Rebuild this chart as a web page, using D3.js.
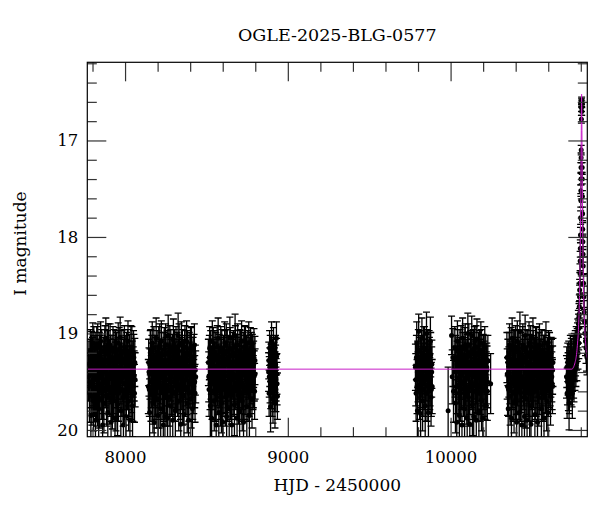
<!DOCTYPE html>
<html>
<head>
<meta charset="utf-8">
<script src="https://cdnjs.cloudflare.com/ajax/libs/d3/7.8.5/d3.min.js"></script>
<style>
body { margin: 0; background: #fff; }
text { font-family: "DejaVu Serif", serif; fill: #000; }
</style>
</head>
<body>
<div id="chart"></div>
<script>

/************************************ Light curve data  [HJD-2450000, I mag, error] ************************************/

var s2017 = [[7776,19.45,.25],[7781,19.62,.30],[7785,19.30,.24],[7790,19.85,.34],[7794,19.20,.22],[7798,19.55,.28],
  [7802,19.10,.21],[7806,19.70,.31],[7810,19.38,.25],[7814,19.25,.23],[7818,19.90,.36],[7822,19.48,.27],[7826,19.15,.22],
  [7830,19.66,.30],[7834,19.33,.24],[7838,19.78,.33],[7842,19.22,.23],[7846,19.52,.27],[7850,19.08,.20],[7854,19.60,.29],
  [7858,19.40,.26],[7862,19.95,.38],[7866,19.28,.24],[7870,19.72,.31],[7874,19.18,.22],[7878,19.50,.27],[7882,19.05,.21],
  [7886,19.64,.30],[7890,19.35,.25],[7894,19.82,.34],[7898,19.12,.22],[7902,19.45,.26],[7906,19.58,.28],[7910,19.25,.23],
  [7914,19.92,.37],[7918,19.40,.26],[7922,19.68,.31],[7926,19.15,.22],[7930,19.55,.28],[7934,19.30,.24],[7938,19.88,.35],
  [7942,19.20,.23],[7946,19.62,.29],[7950,19.42,.26],[7954,19.74,.32],[7958,19.10,.21],[7962,19.50,.27],[7966,19.35,.25],
  [7970,19.04,.21],[7974,19.80,.33],[7978,19.28,.24],[7982,19.58,.28],[7986,19.45,.26],[7990,19.95,.38],[7994,19.18,.22],
  [7998,19.65,.30],[8002,19.38,.25],[8006,19.86,.35],[8010,19.22,.23],[8014,19.52,.27],[8018,19.08,.21],[8022,19.70,.31],
  [8026,19.32,.24],[8030,19.90,.36],[8034,19.45,.26],[8038,19.60,.29],[8042,19.15,.22],[8046,19.75,.32],[8050,19.40,.26],
  [8054,19.25,.24],[8058,19.62,.30],[8062,19.48,.28]];
var s2017b = [[7778,19.32,.24],[7783,19.50,.27],[7787,19.18,.22],[7792,19.42,.26],[7796,19.65,.30],[7800,19.28,.24],
  [7804,19.48,.27],[7808,19.15,.22],[7812,19.58,.28],[7816,19.35,.25],[7820,19.22,.23],[7824,19.62,.29],[7828,19.40,.26],
  [7832,19.12,.22],[7836,19.52,.27],[7840,19.30,.24],[7844,19.68,.30],[7848,19.25,.23],[7852,19.45,.26],[7856,19.18,.22],
  [7860,19.55,.28],[7864,19.38,.25],[7868,19.60,.29],[7872,19.32,.24],[7876,19.14,.22],[7880,19.48,.27],[7884,19.28,.24],
  [7888,19.66,.30],[7892,19.20,.23],[7896,19.42,.26],[7900,19.56,.28],[7904,19.30,.24],[7908,19.12,.22],[7912,19.46,.27],
  [7916,19.62,.29],[7920,19.25,.23],[7924,19.40,.26],[7928,19.58,.28],[7932,19.18,.22],[7936,19.44,.26],[7940,19.34,.25],
  [7944,19.70,.31],[7948,19.22,.23],[7952,19.50,.27],[7956,19.28,.24],[7960,19.62,.29],[7964,19.16,.22],[7968,19.46,.27],
  [7972,19.36,.25],[7976,19.58,.28],[7980,19.20,.23],[7984,19.42,.26],[7988,19.66,.30],[7992,19.30,.24],[7996,19.14,.22],
  [8000,19.52,.27],[8004,19.26,.24],[8008,19.60,.29],[8012,19.38,.25],[8016,19.18,.22],[8020,19.48,.27],[8024,19.58,.28],
  [8028,19.24,.23],[8032,19.40,.26],[8036,19.14,.22],[8040,19.54,.28],[8044,19.32,.24],[8048,19.62,.29],[8052,19.20,.23],
  [8056,19.44,.26],[8060,19.30,.25]];

var s2018 = [[8143,19.55,.28],[8147,19.40,.25],[8151,19.82,.35],[8155,19.20,.23],[8159,19.62,.29],[8163,19.35,.25],
  [8167,19.10,.22],[8171,19.72,.31],[8175,19.45,.26],[8179,19.92,.37],[8183,19.25,.23],[8187,19.58,.28],[8191,19.05,.21],
  [8195,19.68,.30],[8199,19.38,.25],[8203,19.85,.35],[8207,19.15,.22],[8211,19.50,.27],[8215,19.30,.24],[8219,19.78,.33],
  [8223,19.08,.21],[8227,19.60,.29],[8231,19.42,.26],[8235,19.95,.38],[8239,19.22,.23],[8243,19.55,.28],[8245,19.86,.30],
  [8249,19.12,.22],[8253,19.66,.30],[8257,19.35,.25],[8261,19.88,.36],[8265,19.02,.21],[8269,19.48,.27],[8273,19.28,.24],
  [8277,19.75,.32],[8281,19.18,.22],[8285,19.58,.28],[8289,19.40,.26],[8293,19.90,.36],[8297,19.06,.21],[8301,19.62,.29],
  [8305,19.32,.24],[8309,19.80,.34],[8313,19.15,.22],[8317,19.52,.27],[8321,19.38,.25],[8326,19.02,.23],[8330,19.70,.31],
  [8334,19.25,.23],[8338,19.55,.28],[8342,19.94,.37],[8346,19.10,.22],[8350,19.45,.26],[8354,19.65,.30],[8358,19.30,.24],
  [8362,19.84,.35],[8366,19.20,.23],[8370,19.58,.28],[8374,19.42,.26],[8378,19.08,.21],[8382,19.72,.31],[8386,19.35,.25],
  [8390,19.90,.36],[8394,19.22,.23],[8398,19.50,.27],[8402,19.15,.22],[8406,19.68,.30],[8410,19.40,.26],[8414,19.78,.33],
  [8418,19.28,.24],[8422,19.55,.28],[8426,19.12,.22],[8430,19.62,.30],[8434,19.45,.27]];
var s2018b = [[8145,19.30,.24],[8149,19.58,.28],[8153,19.42,.26],[8157,19.18,.22],[8161,19.50,.27],[8165,19.26,.24],
  [8169,19.64,.30],[8173,19.35,.25],[8177,19.15,.22],[8181,19.48,.27],[8185,19.60,.29],[8189,19.28,.24],[8193,19.44,.26],
  [8197,19.20,.23],[8201,19.56,.28],[8205,19.32,.24],[8209,19.68,.30],[8213,19.12,.22],[8217,19.46,.27],[8221,19.38,.25],
  [8225,19.22,.23],[8229,19.54,.28],[8233,19.30,.24],[8237,19.62,.29],[8241,19.16,.22],[8247,19.42,.26],[8251,19.28,.24],
  [8255,19.58,.28],[8259,19.20,.23],[8263,19.48,.27],[8267,19.36,.25],[8271,19.66,.30],[8275,19.14,.22],[8279,19.44,.26],
  [8283,19.30,.24],[8287,19.56,.28],[8291,19.24,.23],[8295,19.50,.27],[8299,19.38,.25],[8303,19.18,.22],[8307,19.62,.29],
  [8311,19.34,.25],[8315,19.46,.27],[8319,19.22,.23],[8323,19.58,.28],[8328,19.30,.24],[8332,19.12,.22],[8336,19.44,.26],
  [8340,19.60,.29],[8344,19.28,.24],[8348,19.52,.27],[8352,19.18,.22],[8356,19.40,.26],[8360,19.64,.30],[8364,19.32,.24],
  [8368,19.14,.22],[8372,19.48,.27],[8376,19.26,.24],[8380,19.56,.28],[8384,19.20,.23],[8388,19.42,.26],[8392,19.62,.29],
  [8396,19.34,.25],[8400,19.50,.27],[8404,19.28,.24],[8408,19.16,.22],[8412,19.46,.27],[8416,19.60,.29],[8420,19.36,.25],
  [8424,19.24,.23],[8428,19.50,.27],[8432,19.38,.26]];

var s2019 = [[8512,19.30,.24],[8516,19.58,.28],[8520,19.15,.22],[8524,19.75,.32],[8528,19.42,.26],[8532,19.88,.36],
  [8536,19.08,.21],[8540,19.52,.27],[8544,19.35,.25],[8548,19.70,.31],[8552,19.20,.23],[8556,19.62,.29],[8560,19.95,.38],
  [8564,19.28,.24],[8568,19.48,.27],[8572,19.05,.21],[8576,19.82,.34],[8580,19.38,.25],[8584,19.60,.29],[8588,19.15,.22],
  [8592,19.72,.31],[8596,19.45,.26],[8600,19.92,.37],[8604,19.25,.23],[8608,19.55,.28],[8612,19.10,.22],[8616,19.66,.30],
  [8620,19.32,.24],[8624,19.86,.35],[8628,19.18,.22],[8632,19.50,.27],[8636,19.40,.26],[8640,19.78,.33],[8644,19.04,.21],
  [8648,19.60,.29],[8652,19.30,.24],[8656,19.95,.38],[8660,19.22,.23],[8664,19.58,.28],[8668,19.45,.26],[8672,19.74,.32],
  [8676,19.02,.22],[8680,19.52,.27],[8684,19.35,.25],[8688,19.88,.36],[8692,19.12,.22],[8696,19.64,.30],[8700,19.42,.26],
  [8704,19.80,.34],[8708,19.20,.23],[8712,19.55,.28],[8716,19.08,.21],[8720,19.70,.31],[8724,19.38,.25],[8728,19.92,.37],
  [8732,19.25,.23],[8736,19.60,.29],[8740,19.15,.22],[8744,19.48,.27],[8748,19.76,.32],[8752,19.32,.24],[8756,19.62,.29],
  [8760,19.10,.22],[8764,19.85,.35],[8768,19.40,.26],[8772,19.55,.28],[8776,19.22,.23],[8780,19.68,.30],[8784,19.35,.25],
  [8788,19.50,.27],[8792,19.18,.23],[8796,19.60,.29],[8799,19.42,.26]];
var s2019b = [[8514,19.45,.26],[8518,19.25,.23],[8522,19.52,.27],[8526,19.20,.23],[8530,19.38,.25],[8534,19.60,.29],
  [8538,19.30,.24],[8542,19.16,.22],[8546,19.48,.27],[8550,19.34,.25],[8554,19.62,.29],[8558,19.22,.23],[8562,19.44,.26],
  [8566,19.14,.22],[8570,19.56,.28],[8574,19.36,.25],[8578,19.24,.23],[8582,19.50,.27],[8586,19.66,.30],[8590,19.30,.24],
  [8594,19.18,.22],[8598,19.46,.27],[8602,19.58,.28],[8606,19.28,.24],[8610,19.40,.26],[8614,19.20,.23],[8618,19.54,.28],
  [8622,19.12,.22],[8626,19.44,.26],[8630,19.62,.29],[8634,19.26,.24],[8638,19.50,.27],[8642,19.34,.25],[8646,19.16,.22],
  [8650,19.48,.27],[8654,19.64,.30],[8658,19.30,.24],[8662,19.42,.26],[8666,19.20,.23],[8670,19.56,.28],[8674,19.36,.25],
  [8678,19.14,.22],[8682,19.46,.27],[8686,19.28,.24],[8690,19.60,.29],[8694,19.24,.23],[8698,19.50,.27],[8702,19.32,.24],
  [8706,19.18,.22],[8710,19.44,.26],[8714,19.62,.29],[8718,19.30,.24],[8722,19.52,.27],[8726,19.22,.23],[8730,19.40,.26],
  [8734,19.14,.22],[8738,19.56,.28],[8742,19.34,.25],[8746,19.26,.24],[8750,19.48,.27],[8754,19.20,.23],[8758,19.42,.26],
  [8762,19.58,.28],[8766,19.28,.24],[8770,19.16,.22],[8774,19.46,.27],[8778,19.36,.25],[8782,19.24,.23],[8786,19.52,.27],
  [8790,19.32,.24],[8794,19.44,.26],[8798,19.28,.25]];

var s2020 = [[8882,19.40,.20],[8885,19.62,.24],[8888,19.15,.18],[8891,19.50,.22],[8894,19.76,.26],[8897,19.30,.19],
  [8900,19.08,.20],[8903,19.55,.23],[8906,19.25,.19],[8909,19.68,.25],[8912,19.12,.18],[8915,19.45,.21],[8918,19.35,.20],
  [8921,19.72,.26],[8924,19.20,.18],[8927,19.58,.23],[8930,19.05,.17],[8933,19.42,.21],[8936,19.65,.24]];
var s2020b = [[8883,19.28,.19],[8886,19.45,.21],[8889,19.35,.20],[8892,19.20,.18],[8895,19.55,.23],[8898,19.42,.21],
  [8901,19.30,.19],[8904,19.62,.24],[8907,19.38,.20],[8910,19.22,.18],[8913,19.50,.22],[8916,19.28,.19],[8919,19.58,.23],
  [8922,19.40,.21],[8925,19.32,.20],[8928,19.48,.22],[8931,19.24,.19],[8934,19.52,.22]];

var s2022 = [[9784,19.35,.24],[9788,19.62,.29],[9792,19.10,.22],[9796,19.80,.33],[9800,19.45,.26],[9804,18.98,.18],
  [9808,19.55,.28],[9812,19.25,.23],[9816,19.83,.34],[9820,19.40,.26],[9824,19.05,.21],[9828,19.70,.31],[9832,19.30,.24],
  [9836,19.58,.28],[9840,19.15,.22],[9844,19.75,.32],[9848,19.48,.27],[9852,19.00,.22],[9856,19.62,.29],[9860,19.35,.25],
  [9864,19.82,.34],[9868,19.20,.23],[9872,19.52,.27],[9876,19.08,.25],[9880,19.66,.30],[9884,19.40,.26],[9887,19.55,.28]];
var s2022b = [[9786,19.48,.27],[9790,19.25,.23],[9794,19.55,.28],[9798,19.32,.24],[9802,19.18,.22],[9806,19.42,.26],
  [9810,19.60,.29],[9814,19.28,.24],[9818,19.50,.27],[9822,19.20,.23],[9826,19.45,.26],[9830,19.35,.25],[9834,19.15,.22],
  [9838,19.52,.27],[9842,19.30,.24],[9846,19.62,.29],[9850,19.24,.23],[9854,19.44,.26],[9858,19.18,.22],[9862,19.55,.28],
  [9866,19.36,.25],[9870,19.28,.24],[9874,19.48,.27],[9878,19.22,.23],[9882,19.58,.28],[9885,19.32,.25]];

var s2023 = [[9985,19.80,.45],[10006,19.02,.20],[10010,19.45,.28],[10014,19.25,.30],[10018,19.60,.32],[10026,19.15,.22],
  [10030,19.72,.31],[10034,19.38,.25],[10038,19.92,.37],[10042,19.08,.21],[10046,19.55,.28],[10050,19.30,.24],[10054,19.85,.35],
  [10058,19.18,.22],[10062,19.62,.29],[10066,19.42,.26],[10070,19.95,.38],[10074,19.05,.21],[10078,19.50,.27],[10082,19.28,.24],
  [10086,19.78,.33],[10090,19.12,.22],[10094,19.58,.28],[10098,19.40,.26],[10102,19.88,.36],[10106,19.00,.21],[10110,19.66,.30],
  [10114,19.35,.25],[10118,19.94,.37],[10122,19.22,.23],[10126,19.52,.27],[10130,19.02,.20],[10134,19.74,.32],[10138,19.45,.26],
  [10142,19.86,.35],[10146,19.15,.22],[10150,19.60,.29],[10154,19.32,.24],[10158,19.90,.36],[10162,19.06,.21],[10166,19.55,.28],
  [10170,19.38,.25],[10174,19.80,.34],[10178,19.20,.23],[10182,19.62,.29],[10186,19.10,.22],[10190,19.70,.31],[10194,19.42,.26],
  [10198,19.88,.36],[10202,19.25,.23],[10206,19.58,.28],[10210,19.15,.22],[10214,19.48,.27],[10218,19.75,.32],[10222,19.35,.25],
  [10226,19.60,.30],[10229,19.28,.26],[10246,19.52,.31]];
var s2023b = [[10028,19.40,.26],[10032,19.25,.23],[10036,19.55,.28],[10040,19.32,.24],[10044,19.18,.22],[10048,19.46,.27],
  [10052,19.62,.29],[10056,19.28,.24],[10060,19.42,.26],[10064,19.14,.22],[10068,19.52,.27],[10072,19.34,.25],[10076,19.22,.23],
  [10080,19.58,.28],[10084,19.40,.26],[10088,19.16,.22],[10092,19.48,.27],[10096,19.30,.24],[10100,19.64,.30],[10104,19.24,.23],
  [10108,19.44,.26],[10112,19.12,.22],[10116,19.56,.28],[10120,19.36,.25],[10124,19.20,.23],[10128,19.50,.27],[10132,19.30,.24],
  [10136,19.60,.29],[10140,19.18,.22],[10144,19.42,.26],[10148,19.28,.24],[10152,19.54,.28],[10156,19.14,.22],[10160,19.46,.27],
  [10164,19.34,.25],[10168,19.62,.29],[10172,19.22,.23],[10176,19.44,.26],[10180,19.30,.24],[10184,19.56,.28],[10188,19.18,.22],
  [10192,19.48,.27],[10196,19.36,.25],[10200,19.24,.23],[10204,19.52,.27],[10208,19.32,.24],[10212,19.60,.29],[10216,19.26,.24],
  [10220,19.46,.27],[10224,19.38,.25],[10227,19.50,.27]];

var s2024 = [[10346,19.25,.26],[10350,19.55,.30],[10354,19.78,.34],[10358,19.40,.26],[10362,19.12,.22],[10366,19.65,.30],
  [10370,19.32,.24],[10374,19.88,.36],[10378,19.05,.21],[10382,19.50,.27],[10386,19.28,.24],[10390,19.72,.31],[10394,19.18,.22],
  [10398,19.60,.29],[10402,19.42,.26],[10406,19.92,.37],[10410,19.08,.21],[10414,19.55,.28],[10418,19.35,.25],[10422,19.82,.34],
  [10426,18.98,.20],[10430,19.62,.29],[10434,19.45,.26],[10438,19.95,.38],[10442,19.15,.22],[10446,19.52,.27],[10450,19.30,.24],
  [10454,19.86,.35],[10458,19.02,.21],[10462,19.68,.30],[10466,19.38,.25],[10470,19.90,.36],[10474,19.20,.23],[10478,19.58,.28],
  [10482,19.10,.22],[10486,19.75,.32],[10490,19.45,.26],[10494,19.94,.37],[10498,19.25,.23],[10502,19.62,.29],[10506,19.05,.21],
  [10510,19.50,.27],[10514,19.35,.25],[10518,19.84,.35],[10522,19.15,.22],[10526,19.58,.28],[10530,19.40,.26],[10534,19.92,.37],
  [10538,19.22,.23],[10542,19.66,.30],[10546,19.12,.22],[10550,19.52,.27],[10554,19.30,.24],[10558,19.78,.33],[10562,19.18,.22],
  [10566,19.60,.29],[10570,19.42,.26],[10574,19.88,.36],[10578,19.25,.23],[10582,19.55,.28],[10586,19.10,.22],[10590,19.70,.31],
  [10594,19.35,.25],[10598,19.82,.34],[10602,19.20,.23],[10606,19.50,.27],[10610,19.38,.25],[10614,19.65,.30],[10618,19.28,.24],
  [10622,19.45,.26],[10626,19.55,.28],[10629,19.30,.25]];
var s2024b = [[10348,19.42,.26],[10352,19.30,.24],[10356,19.58,.28],[10360,19.22,.23],[10364,19.46,.27],[10368,19.36,.25],
  [10372,19.16,.22],[10376,19.52,.27],[10380,19.30,.24],[10384,19.62,.29],[10388,19.20,.23],[10392,19.44,.26],[10396,19.34,.25],
  [10400,19.14,.22],[10404,19.56,.28],[10408,19.28,.24],[10412,19.48,.27],[10416,19.18,.22],[10420,19.60,.29],[10424,19.32,.24],
  [10428,19.44,.26],[10432,19.22,.23],[10436,19.54,.28],[10440,19.36,.25],[10444,19.12,.22],[10448,19.48,.27],[10452,19.66,.30],
  [10456,19.26,.24],[10460,19.40,.26],[10464,19.18,.22],[10468,19.56,.28],[10472,19.30,.24],[10476,19.46,.27],[10480,19.62,.29],
  [10484,19.24,.23],[10488,19.38,.25],[10492,19.14,.22],[10496,19.52,.27],[10500,19.34,.25],[10504,19.58,.28],[10508,19.20,.23],
  [10512,19.44,.26],[10516,19.28,.24],[10520,19.60,.29],[10524,19.36,.25],[10528,19.16,.22],[10532,19.50,.27],[10536,19.30,.24],
  [10540,19.46,.27],[10544,19.22,.23],[10548,19.56,.28],[10552,19.38,.25],[10556,19.18,.22],[10560,19.48,.27],[10564,19.32,.24],
  [10568,19.62,.29],[10572,19.26,.24],[10576,19.42,.26],[10580,19.20,.23],[10584,19.54,.28],[10588,19.36,.25],[10592,19.46,.27],
  [10596,19.28,.24],[10600,19.58,.28],[10604,19.34,.25],[10608,19.22,.23],[10612,19.48,.27],[10616,19.40,.26],[10620,19.30,.24],
  [10624,19.52,.27],[10627,19.38,.25]];

var s2025 = [[10712,19.45,.22],[10716,19.62,.26],[10720,19.30,.20],[10724,19.55,.25],[10728,19.72,.28],[10732,19.40,.22],
  [10736,19.20,.18],[10740,19.50,.24],[10744,19.35,.21],[10748,19.62,.26],[10752,19.28,.20],[10756,19.45,.22],[10760,19.18,.18],
  [10764,19.38,.21],[10768,19.25,.19],[10772,19.10,.17],[10776,19.30,.19],[10780,19.05,.16],[10783,19.20,.17],[10786,18.95,.15],
  [10788,19.10,.16],[10790,18.80,.13],[10792,18.62,.12],[10794,18.48,.11],[10795,18.38,.10],[10796,18.25,.10],[10797,18.12,.09],
  [10798,17.98,.08],[10799,17.80,.07],[10800,17.62,.07],[10800.5,17.52,.06],[10801,17.40,.06],[10801.5,17.28,.05],[10802,17.18,.05],
  [10802.5,17.10,.05],[10803.7,16.78,.04],[10804.2,16.66,.04],[10804.6,16.60,.03],[10805,16.58,.03],[10805.4,16.62,.03],
  [10805.8,16.70,.04],[10808.5,17.28,.05],[10809,17.40,.05],[10810,17.58,.06],[10811,17.76,.07],[10812,17.92,.07],[10813,18.05,.08],
  [10814,18.18,.08],[10815,18.30,.09],[10817,18.48,.10],[10819,18.62,.11],[10821,18.78,.12],[10823,18.88,.13],[10826,19.00,.14],
  [10829,19.08,.15],[10832,19.15,.16],[10835,19.22,.17],[10838,19.25,.18]];
var s2025b = [[10714,19.35,.21],[10718,19.50,.24],[10722,19.42,.22],[10726,19.28,.20],[10730,19.58,.25],[10734,19.32,.21],
  [10738,19.45,.23],[10742,19.25,.20],[10746,19.52,.24],[10750,19.38,.22],[10754,19.22,.19],[10758,19.48,.23],[10762,19.30,.20],
  [10766,19.15,.18],[10770,19.35,.20],[10774,19.20,.18],[10778,19.12,.17],[10782,19.00,.15],[10785,18.90,.14],[10787,19.02,.15],
  [10789,18.82,.13],[10791,18.72,.12],[10793,18.55,.11]];

/************************************ Model curve ************************************/

var modelT   = [7700, 10745, 10755, 10765, 10775, 10780, 10785, 10790, 10795, 10798, 10800, 10802, 10803, 10804, 10805,
                10806, 10807, 10808, 10810, 10812, 10815, 10820, 10825, 10830, 10835, 10840];
var modelMag = [19.37, 19.37, 19.35, 19.30, 19.20, 19.10, 18.98, 18.75, 18.35, 17.95, 17.60, 17.15, 16.90, 16.65, 16.52,
                16.65, 16.90, 17.15, 17.60, 17.95, 18.35, 18.75, 18.98, 19.10, 19.20, 19.26];

var xMajor = [8000, 9000, 10000];
var yMajor = [17, 18, 19, 20];

var title = "OGLE-2025-BLG-0577";

/************************************ Draw graph ************************************/

var W = 600, H = 512;
var L = 87.3, R = 587.3, T = 62.3, B = 436.7;

var x = d3.scaleLinear().domain([7768, 10840]).range([L, R]);
var y = d3.scaleLinear().domain([16.19, 20.07]).range([T, B]);

var xMinor = d3.range(7800, 10841, 200).filter(function(d){ return d % 1000 !== 0; });
var yMinor = d3.range(162, 201, 2).filter(function(d){ return d % 10 !== 0; }).map(function(d){ return d / 10; });

var svg = d3.select('#chart').append('svg')
    .attr('width', W).attr('height', H)
    .style('background', '#fff');

svg.append('defs').append('clipPath').attr('id', 'plot')
    .append('rect').attr('x', L).attr('y', T).attr('width', R - L).attr('height', B - T);

var pts = [].concat(s2017, s2017b, s2018, s2018b, s2019, s2019b, s2020, s2020b,
                    s2022, s2022b, s2023, s2023b, s2024, s2024b, s2025, s2025b);

var g = svg.append('g').attr('clip-path', 'url(#plot)');

// error bars
var eb = g.append('g').attr('stroke', '#000').attr('stroke-width', 1.3);
eb.selectAll('line.bar').data(pts).enter().append('line').attr('class', 'bar')
    .attr('x1', function(d){ return x(d[0]); }).attr('x2', function(d){ return x(d[0]); })
    .attr('y1', function(d){ return y(d[1] - d[2]); }).attr('y2', function(d){ return y(d[1] + d[2]); });
eb.selectAll('line.capt').data(pts).enter().append('line').attr('class', 'capt')
    .attr('x1', function(d){ return x(d[0]) - 3.5; }).attr('x2', function(d){ return x(d[0]) + 3.5; })
    .attr('y1', function(d){ return y(d[1] - d[2]); }).attr('y2', function(d){ return y(d[1] - d[2]); });
eb.selectAll('line.capb').data(pts).enter().append('line').attr('class', 'capb')
    .attr('x1', function(d){ return x(d[0]) - 3.5; }).attr('x2', function(d){ return x(d[0]) + 3.5; })
    .attr('y1', function(d){ return y(d[1] + d[2]); }).attr('y2', function(d){ return y(d[1] + d[2]); });

// points
g.selectAll('circle').data(pts).enter().append('circle')
    .attr('cx', function(d){ return x(d[0]); })
    .attr('cy', function(d){ return y(d[1]); })
    .attr('r', 2.5).attr('fill', '#000');

// model
var model = modelT.map(function(t, i){ return [t, modelMag[i]]; });
g.append('path').datum(model)
    .attr('fill', 'none').attr('stroke', '#c81ec8').attr('stroke-width', 1)
    .attr('d', d3.line().x(function(d){ return x(d[0]); }).y(function(d){ return y(d[1]); }).curve(d3.curveMonotoneX));

/************************************ Axes: ticks on all four sides, pointing in ************************************/

function styleAxis(sel) {
    sel.select('.domain').remove();
    sel.selectAll('line').attr('stroke', '#333').attr('stroke-width', 1.2);
    sel.selectAll('text').attr('font-family', '"DejaVu Serif", serif').attr('font-size', 16.5).attr('fill', '#000');
}

svg.append('g').attr('transform', 'translate(0,' + B + ')')
    .call(d3.axisBottom(x).tickValues(xMajor).tickSize(-19).tickPadding(14.6).tickFormat(d3.format('d'))).call(styleAxis);
svg.append('g').attr('transform', 'translate(0,' + B + ')')
    .call(d3.axisBottom(x).tickValues(xMinor).tickSize(-9.5).tickFormat('')).call(styleAxis);
svg.append('g').attr('transform', 'translate(0,' + T + ')')
    .call(d3.axisTop(x).tickValues(xMajor).tickSize(-19).tickFormat('')).call(styleAxis);
svg.append('g').attr('transform', 'translate(0,' + T + ')')
    .call(d3.axisTop(x).tickValues(xMinor).tickSize(-9.5).tickFormat('')).call(styleAxis);

svg.append('g').attr('transform', 'translate(' + L + ',0)')
    .call(d3.axisLeft(y).tickValues(yMajor).tickSize(-19).tickPadding(9).tickFormat(d3.format('d'))).call(styleAxis);
svg.append('g').attr('transform', 'translate(' + L + ',0)')
    .call(d3.axisLeft(y).tickValues(yMinor).tickSize(-9.5).tickFormat('')).call(styleAxis);
svg.append('g').attr('transform', 'translate(' + R + ',0)')
    .call(d3.axisRight(y).tickValues(yMajor).tickSize(-19).tickFormat('')).call(styleAxis);
svg.append('g').attr('transform', 'translate(' + R + ',0)')
    .call(d3.axisRight(y).tickValues(yMinor).tickSize(-9.5).tickFormat('')).call(styleAxis);

// frame
svg.append('rect').attr('x', L).attr('y', T).attr('width', R - L).attr('height', B - T)
    .attr('fill', 'none').attr('stroke', '#000').attr('stroke-width', 1.2);

/************************************ Titles ************************************/

svg.append('text').attr('x', (L + R) / 2).attr('y', 41).attr('text-anchor', 'middle')
    .attr('font-size', 17.5).text(title);
svg.append('text').attr('x', (L + R) / 2).attr('y', 491).attr('text-anchor', 'middle')
    .attr('font-size', 17).text('HJD - 2450000');
svg.append('text').attr('transform', 'translate(26,' + ((T + B) / 2 - 6) + ') rotate(-90)')
    .attr('text-anchor', 'middle').attr('font-size', 17).text('I magnitude');

</script>
</body>
</html>
